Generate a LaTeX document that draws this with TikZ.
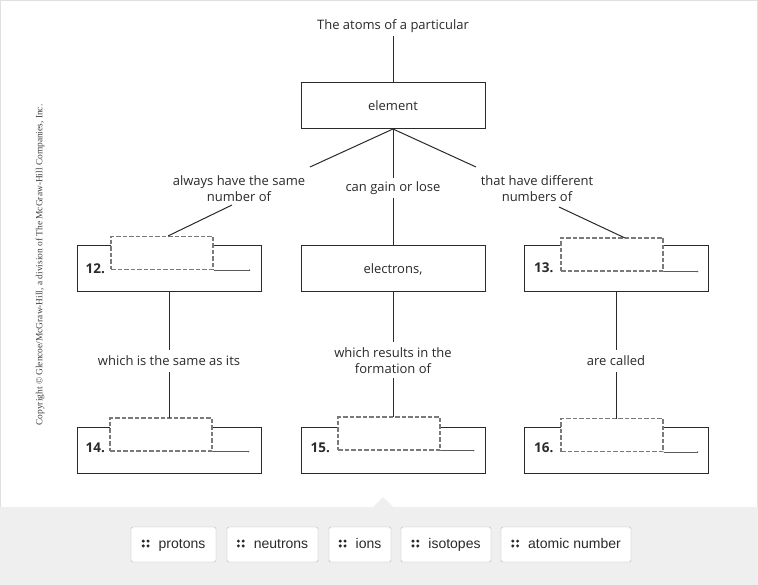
\documentclass[tikz,border=0pt]{standalone}
\usepackage{fontspec}
\setmainfont{Open Sans}
\newfontfamily\btnfont{Liberation Sans}
\newfontfamily\cpyfont{Liberation Serif}
\definecolor{ink}{HTML}{2A2A2A}
\definecolor{dash}{HTML}{7A7A7A}
\definecolor{uline}{HTML}{5A5A5A}
\definecolor{panel}{HTML}{EFEFEF}
\definecolor{btnedge}{HTML}{B5B5B5}
\begin{document}
\begin{tikzpicture}[x=1pt,y=-1pt,
  box/.style={draw=ink,line width=1pt,minimum width=184pt,minimum height=46pt,inner sep=0pt,font=\fontsize{13}{15}\selectfont,text=ink},
  lbl/.style={font=\fontsize{13}{16}\selectfont,text=ink,align=center,inner sep=0pt},
  num/.style={font=\bfseries\fontsize{13.5}{15}\selectfont,text=ink,inner sep=0pt},
  blank/.style={draw=dash,dashed,dash pattern=on 4.5pt off 2pt,line width=1.1pt,fill=white,minimum width=102pt,minimum height=33pt,inner sep=0pt},
  conn/.style={draw=ink,line width=1pt},
  under/.style={draw=uline,line width=1pt},
  dot/.style={circle,fill=uline,inner sep=0.55pt},
  btn/.style={draw=btnedge,fill=white,rounded corners=1.5pt,minimum height=35pt,inner sep=0pt,text height=10pt,text depth=3pt,font=\btnfont\fontsize{14}{16}\selectfont,text=ink}
]
\useasboundingbox (0,0) rectangle (758,585);
\fill[white] (0,0) rectangle (758,585);
\draw[draw=black!12] (0.5,0.5) rectangle (757.5,584.5);
% bottom panel
\fill[panel] (0,507) -- (373,507) -- (383,497) -- (393,507) -- (758,507) -- (758,585) -- (0,585) -- cycle;

% copyright
\node[rotate=90,font=\cpyfont\fontsize{9.4}{10}\selectfont,text=black!75,inner sep=0pt] (cpy) at (40,265) {Copyright \textcopyright{} Glencoe/McGraw-Hill, a division of The McGraw-Hill Companies, Inc.};

% top
\node[lbl] (top) at (393,26) {The atoms of a particular};
\node[box] (elem) at (393,105.5) {element};
\coordinate (t0) at (393,36);
\draw[conn] (t0) -- (elem.north);

% mid labels
\node[lbl] (l1) at (239,188.5) {always have the same\\number of};
\node[lbl] (l2) at (393,188) {can gain or lose};
\node[lbl] (l3) at (537,188.5) {that have different\\numbers of};
\coordinate (e1) at (310,167);
\coordinate (e3) at (476,167);
\coordinate (c1) at (393,178);
\coordinate (c2) at (393,198);
\draw[conn] (elem.south) -- (e1);
\draw[conn] (elem.south) -- (e3);
\draw[conn] (elem.south) -- (c1);

% row 2 boxes
\node[box] (b12) at (169,269) {};
\node[box] (el) at (393,269) {electrons,};
\node[box] (b13) at (616.5,269) {};
\node[blank] (d12) at (162,253) {};
\node[blank] (d13) at (612,254.5) {};
\node[num,anchor=west] (n12) at (85.5,268.5) {12.};
\node[num,anchor=west] (n13) at (534,268) {13.};
\draw[under] (d12.south east) -- ++(36,0) node[dot] (p12) {};
\draw[under] (d13.south east) -- ++(34,0) node[dot] (p13) {};
\coordinate (s1) at (232,205);
\coordinate (s1b) at (168,236);
\coordinate (s3) at (559,207);
\coordinate (s3b) at (625,238);
\draw[conn] (s1) -- (s1b);
\draw[conn] (s3) -- (s3b);
\draw[conn] (c2) -- (el.north);

% lower labels
\node[lbl] (m1) at (169,361) {which is the same as its};
\node[lbl] (m2) at (393,360.5) {which results in the\\formation of};
\node[lbl] (m3) at (616,361) {are called};

% row 3 boxes
\node[box] (b14) at (169,450) {};
\node[box] (b15) at (393,450) {};
\node[box] (b16) at (616.5,450) {};
\node[blank] (d14) at (161,434.5) {};
\node[blank] (d15) at (389,433.5) {};
\node[blank] (d16) at (612,435) {};
\node[num,anchor=west] (n14) at (85.5,447.5) {14.};
\node[num,anchor=west] (n15) at (310.5,447.5) {15.};
\node[num,anchor=west] (n16) at (534,447.5) {16.};
\draw[under] (d14.south east) -- ++(36,0) node[dot] (p14) {};
\draw[under] (d15.south east) -- ++(33,0) node[dot] (p15) {};
\draw[under] (d16.south east) -- ++(34,0) node[dot] (p16) {};

% vertical connectors
\coordinate (v1a) at (169,350); \coordinate (v1b) at (169,372); \coordinate (v1c) at (169,418);
\coordinate (v2a) at (393,342); \coordinate (v2b) at (393,378); \coordinate (v2c) at (393,417);
\coordinate (v3a) at (616,350); \coordinate (v3b) at (616,372); \coordinate (v3c) at (616,418.5);
\draw[conn] (b12.south) -- (v1a);
\draw[conn] (v1b) -- (v1c);
\draw[conn] (el.south) -- (v2a);
\draw[conn] (v2b) -- (v2c);
\draw[conn] (v3a |- b13.south) -- (v3a);
\draw[conn] (v3b) -- (v3c);

% buttons
\newcommand{\grip}{\tikz[x=1pt,y=1pt,baseline=0pt]{\fill[ink] (0,0.5) rectangle (3.2,3.7) (4.8,0.5) rectangle (8,3.7) (0,5.3) rectangle (3.2,8.5) (4.8,5.3) rectangle (8,8.5);}\hspace{9pt}}
\node[btn,minimum width=85pt] (k1) at (173.5,544.5) {\grip protons};
\node[btn,minimum width=91pt] (k2) at (272.5,544.5) {\grip neutrons};
\node[btn,minimum width=62pt] (k3) at (360,544.5) {\grip ions};
\node[btn,minimum width=90pt] (k4) at (446,544.5) {\grip isotopes};
\node[btn,minimum width=130pt] (k5) at (566,544.5) {\grip atomic number};
\end{tikzpicture}
\end{document}
